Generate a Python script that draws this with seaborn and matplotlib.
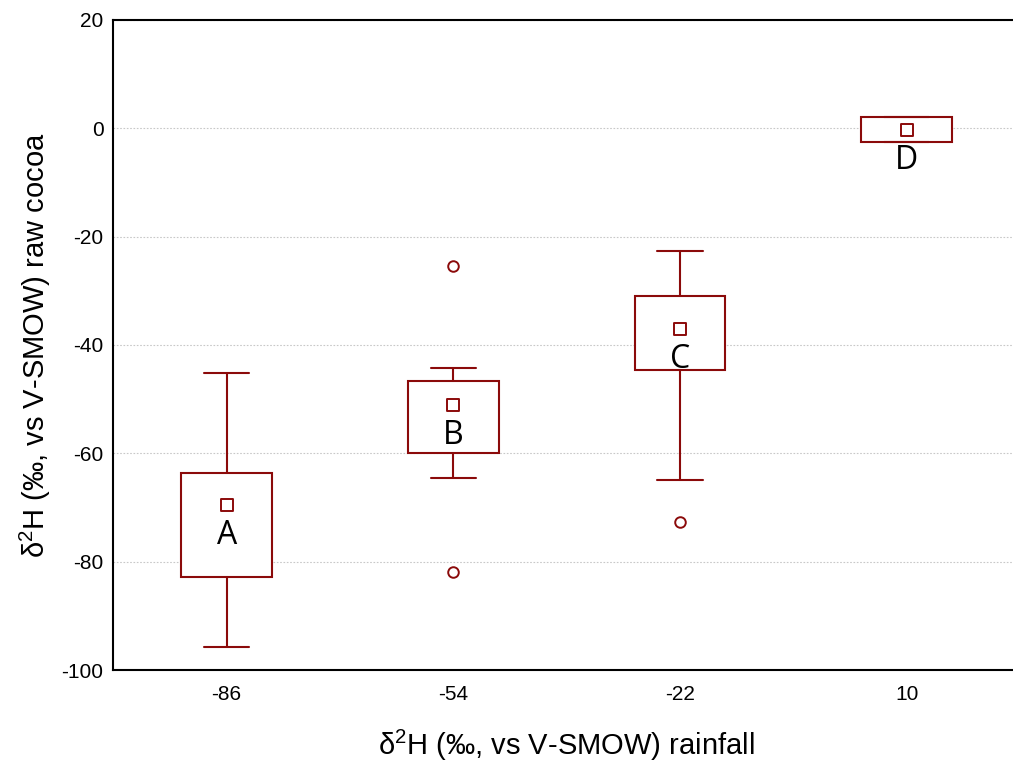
import matplotlib
matplotlib.use("Agg")
import matplotlib.pyplot as plt
import seaborn as sns
import pandas as pd

# Rainfall isotope classes (x) and raw-cocoa delta-2H box statistics (y)
rainfall = [-86, -54, -22, 10]
groups = ["A", "B", "C", "D"]
whisker_low = [-95.7, -64.6, -64.9, -2.5]
q1 = [-82.8, -60.0, -44.6, -2.5]
median = [-69.5, -51.1, -37.1, -0.3]
q3 = [-63.7, -46.6, -30.9, 2.0]
whisker_high = [-45.2, -44.3, -22.7, 2.0]
outlier_x = [-54, -54, -22]
outlier_y = [-25.4, -81.9, -72.6]

y_ticks = [-100, -80, -60, -40, -20, 0, 20]

RED = "#8b0a0a"

sns.set_style("white")
plt.rcParams["font.family"] = ["Liberation Sans", "DejaVu Sans"]
plt.rcParams["mathtext.fontset"] = "custom"
plt.rcParams["mathtext.rm"] = "Liberation Sans"
plt.rcParams["mathtext.it"] = "Liberation Sans"

fig = plt.figure(figsize=(10.13, 7.66), dpi=100)
ax = fig.add_axes([113.3 / 1013, 96 / 766, 906.7 / 1013, 650 / 766])

stats = [
    dict(whislo=wl, q1=a, med=m, q3=b, whishi=wh, fliers=[])
    for wl, a, m, b, wh in zip(whisker_low, q1, median, q3, whisker_high)
]
ax.bxp(
    stats,
    positions=rainfall,
    widths=12.8,
    capwidths=6.4,
    patch_artist=True,
    showfliers=False,
    boxprops=dict(facecolor="white", edgecolor=RED, linewidth=1.5),
    whiskerprops=dict(color=RED, linewidth=1.5),
    capprops=dict(color=RED, linewidth=1.5),
    medianprops=dict(visible=False),
    zorder=2,
)

med_df = pd.DataFrame({"rainfall": rainfall, "median": median, "group": groups})
sns.scatterplot(data=med_df, x="rainfall", y="median", marker="s", s=64,
                facecolor="white", edgecolor=RED, linewidth=1.4, zorder=3,
                legend=False, ax=ax)

out_df = pd.DataFrame({"rainfall": outlier_x, "value": outlier_y})
sns.scatterplot(data=out_df, x="rainfall", y="value", marker="o", s=58,
                facecolor="white", edgecolor=RED, linewidth=1.4, zorder=3,
                legend=False, ax=ax)

for x, m, g in zip(rainfall, median, groups):
    ax.annotate(g, (x, m), xytext=(0, -22), textcoords="offset points",
                ha="center", va="center", fontsize=23, family="Open Sans",
                color="black", zorder=4)

ax.set_xlim(-102, 26)
ax.set_ylim(-100, 20)
ax.set_xticks(rainfall)
ax.set_xticklabels([str(v) for v in rainfall])
ax.set_yticks(y_ticks)
ax.set_yticklabels([str(v) for v in y_ticks])

ax.set_axisbelow(True)
ax.yaxis.grid(True, linestyle=(0, (1.5, 1.5)), color="#c8c8c8", linewidth=0.8)
ax.xaxis.grid(False)

for side in ["left", "bottom", "top", "right"]:
    ax.spines[side].set_visible(True)
    ax.spines[side].set_color("black")
    ax.spines[side].set_linewidth(1.5)

ax.tick_params(axis="both", direction="in", length=4, width=1.3,
               color="black", labelsize=15, labelcolor="black")
ax.tick_params(axis="y", pad=7)
ax.tick_params(axis="x", pad=11)

ax.set_xlabel("δ$^{2}$H (‰, vs V-SMOW) rainfall", fontsize=21, labelpad=17,
              color="black")
ax.set_ylabel("δ$^{2}$H (‰, vs V-SMOW) raw cocoa", fontsize=21, labelpad=6,
              color="black")

fig.savefig("out.png", dpi=100)
